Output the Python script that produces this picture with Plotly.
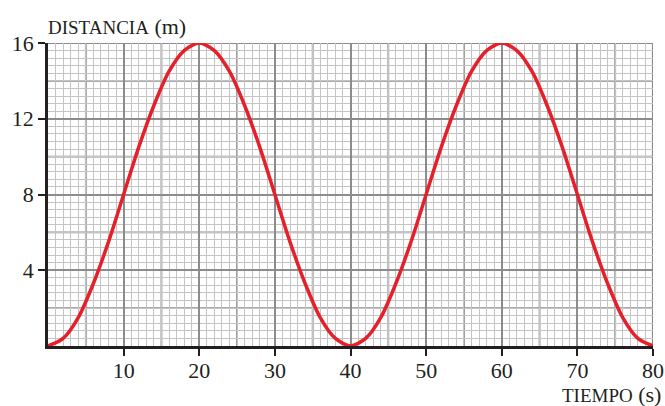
import plotly.graph_objects as go

# Data (time in s, distance in m)
tiempo = [0, 2, 4, 6, 8, 10, 12, 14, 16, 18, 20, 22, 24, 26, 28, 30, 32, 34, 36, 38, 40,
          42, 44, 46, 48, 50, 52, 54, 56, 58, 60, 62, 64, 66, 68, 70, 72, 74, 76, 78, 80]
distancia = [0, 0.4, 1.5, 3.3, 5.5, 8, 10.5, 12.7, 14.5, 15.6, 16, 15.6, 14.5, 12.7, 10.5, 8,
             5.5, 3.3, 1.5, 0.4, 0, 0.4, 1.5, 3.3, 5.5, 8, 10.5, 12.7, 14.5, 15.6, 16,
             15.6, 14.5, 12.7, 10.5, 8, 5.5, 3.3, 1.5, 0.4, 0]

x_ticks = [10, 20, 30, 40, 50, 60, 70, 80]
y_ticks = [4, 8, 12, 16]
x_mid = [5, 15, 25, 35, 45, 55, 65, 75]
y_mid = [2, 6, 10, 14]

FONT = "Liberation Serif"
MAJ = "#8c8c8c"
MIN = "#c4c4c4"

fig = go.Figure()
fig.add_trace(go.Scatter(x=tiempo, y=distancia, mode="lines",
                         line=dict(color="#e5202b", width=3.5, shape="spline", smoothing=0.8),
                         hoverinfo="skip", showlegend=False, cliponaxis=False))

shapes = []
for v in x_mid:
    shapes.append(dict(type="line", xref="x", yref="y", x0=v, x1=v, y0=0, y1=16,
                       line=dict(color=MAJ, width=1.8), layer="below"))
for v in y_mid:
    shapes.append(dict(type="line", xref="x", yref="y", x0=0, x1=80, y0=v, y1=v,
                       line=dict(color=MAJ, width=1.8), layer="below"))
# top and right frame
shapes.append(dict(type="line", xref="x", yref="y", x0=0, x1=80, y0=16, y1=16,
                   line=dict(color=MAJ, width=2.2), layer="below"))
shapes.append(dict(type="line", xref="x", yref="y", x0=80, x1=80, y0=0, y1=16,
                   line=dict(color=MAJ, width=2.2), layer="below"))

fig.update_layout(
    width=665, height=406,
    margin=dict(l=48, r=12, t=43, b=60),
    paper_bgcolor="white", plot_bgcolor="white",
    font=dict(family=FONT, size=22, color="#231f20"),
    shapes=shapes,
    xaxis=dict(range=[0, 80], tickvals=x_ticks, ticktext=[str(v) for v in x_ticks],
               ticks="outside", ticklen=7, tickwidth=2, tickcolor="#231f20",
               ticklabelstandoff=-4,
               showline=True, linecolor="#231f20", linewidth=2.5, automargin=False,
               showgrid=True, gridcolor=MAJ, gridwidth=1.8, zeroline=False,
               minor=dict(dtick=1, tick0=0, showgrid=True, gridcolor=MIN, gridwidth=1.3, ticks=""),
               fixedrange=True),
    yaxis=dict(range=[0, 16], tickvals=y_ticks, ticktext=[str(v) for v in y_ticks],
               ticks="outside", ticklen=7, tickwidth=2, tickcolor="#231f20",
               showline=True, linecolor="#231f20", linewidth=2.5, automargin=False,
               showgrid=True, gridcolor=MAJ, gridwidth=1.8, zeroline=False,
               minor=dict(dtick=0.4, tick0=0, showgrid=True, gridcolor=MIN, gridwidth=1.3, ticks=""),
               fixedrange=True),
    annotations=[
        dict(text="<span style='font-size:19px'>DISTANCIA</span> (m)", xref="paper", yref="paper",
             x=0, y=1, xshift=-2, yshift=2, xanchor="left", yanchor="bottom", showarrow=False,
             font=dict(family=FONT, size=22, color="#231f20")),
        dict(text="<span style='font-size:19px'>TIEMPO</span> (s)", xref="paper", yref="paper",
             x=1, y=0, xshift=10, yshift=-63, xanchor="right", yanchor="bottom", showarrow=False,
             font=dict(family=FONT, size=22, color="#231f20")),
    ],
)

# remove the default page margin so the figure sits at the window's top-left corner
fig.write_html("out.html", config={"displayModeBar": False},
               post_script="document.body.style.margin='0';document.body.style.overflow='hidden';")
